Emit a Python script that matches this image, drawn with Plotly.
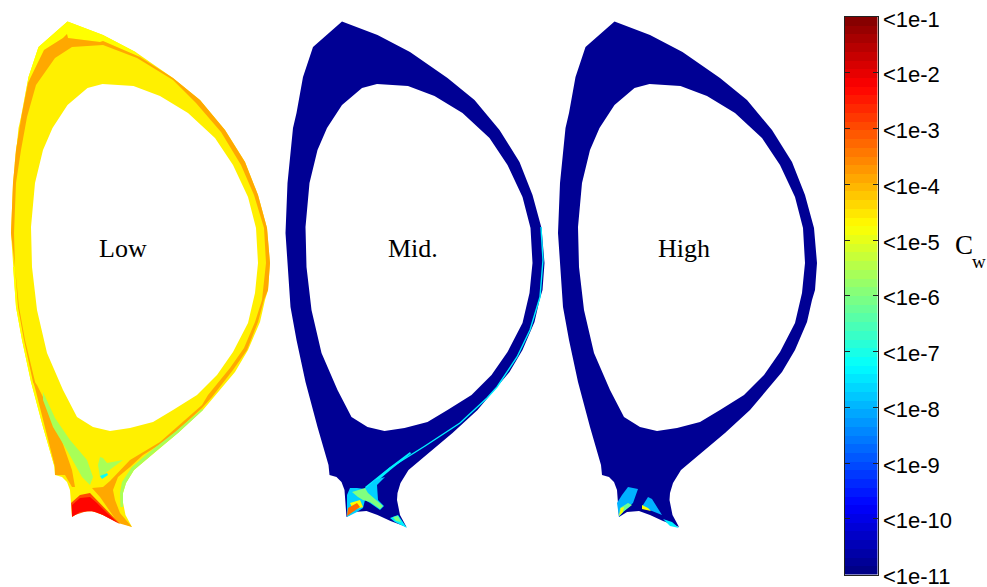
import numpy as np
import plotly.graph_objects as go

# ---- traced geometry (reference pixels) ----
OUTER_X = [67.5,103,135.5,173,200,225,245,258,267,270,268,265,260,248,235,213,203,178,155,134,126,123,122.5,125.5,132,116,103,92,80,72,70,67,62,55,54,43,31,22,16,13,11,13,16,18.5,22,28.5,38.5,67.5]
OUTER_Y = [21.5,35,52,78,100,130,162,195,228,263,290,300,322,350,372,398,410,433,452,470,483,493,500,515,527,521,515,511,512,517,490,482,477,475,465,427,382,340,307,267,233,183,150,128,113,77,47,21.5]
HOLE_X = [102.5,133.5,160,188,215,233,248,256,258,255,253,248,233,217,197,173,153,130,110,93,77,63,47,37,32,31,35,43,52.5,67.5,87.5,102.5]
HOLE_Y = [84,86,96,113,138,165,197,228,263,293,300,323,352,375,395,410,422,428,431,427,417,390,353,310,267,227,183,150,128,105,88,84]

TOP_EDGE_X = [67.5,103,135.5,140,103,100,68,67,63,44,28,22,16,14,21,28.5,38.5]
TOP_EDGE_Y = [21.5,35,52,57,41,42,38,34,38,50,83,113,150,170,117,77,47]
LOW_EDGE_X = [13,16,22,31,43,54,56,45,33,24,18,15]
LOW_EDGE_Y = [267,307,340,382,427,465,465,420,380,340,307,267]

BAND_X = [33,24,18,15,11,13,16,22,28,44,63,67,68,100,103,140,173,200,225,245,258,267,270,268,264,258,247,233,212,202,167,143,130,130,160,202,208,230,244,255,262,266,264,254,241,221,196,173,137,103,72,55,36,27,21,16,14,15,19,25,37]
BAND_Y = [382,340,307,267,233,183,150,113,83,50,38,34,38,42,41,57,78,100,130,162,195,228,263,290,300,322,350,370,397,408,440,455,467,460,442,405,395,368,348,322,300,263,228,195,165,132,103,80,58,45,47,58,85,117,150,183,233,267,307,340,390]
WEDGE_X = [33,43,55,55,65,72,75,72,57,43,37]
WEDGE_Y = [380,420,467,475,475,487,487,470,427,397,385]
TAIL_X = [92,103,110,130,130,118,113,115,120,132,118,100]
TAIL_Y = [488,487,481,460,467,477,490,500,513,527,523,497]
EDGE_X = [203,178,155,134,126,123,123,120.5,120,122,132,152,175,202]
EDGE_Y = [410,433,452,470,483,493,507,507,493,482,467,450,432,409]
ARC_X = [43,55,70,87,93,90,82,68,53,43]
ARC_Y = [392,418,440,460,477,485,477,452,427,400]
FORK_X = [100,103,107,123,100,98]
FORK_Y = [457,458,463,460,477,465]
SPOT_X = [100,107,108,102]
SPOT_Y = [476,473,475,479]
HALO_X = [71,80,90,97,107,120,118,97,87,72]
HALO_Y = [503,495,493,500,510,524,523,512,511,516]
RED_X = [72,80,90,97,107,118,103,92,80,72]
RED_Y = [505,498,497,503,513,523,515,511,512,517]

M_BASE_X = [347,350,357,365,375,385,377,378,384,380,370,365,363,357,347]
M_BASE_Y = [495,488,488,489,480,477,485,500,506,510,503,500,508,512,517]
M_GREEN_X = [352,365,368,378,383,380,370,363,358]
M_GREEN_Y = [492,488,493,502,506,509,502,500,497]
M_YELLOW_X = [350,360,363,353]
M_YELLOW_Y = [503,500,507,510]
M_ORANGE_X = [348,357,360,352,347]
M_ORANGE_Y = [508,503,507,513,516]
M_TIP_X = [390,398,407,395]
M_TIP_Y = [518,515,528,522]
M_TIPG_X = [393,398,401,396]
M_TIPG_Y = [517,516,522,521]
M_STREAK_X = [541,543,540,530,517,497,487,460,425,390,365]
M_STREAK_Y = [227,260,297,330,357,387,398,423,446,468,489]
M_WIDE_X = [365,390,410,411,391,367]
M_WIDE_Y = [487,467,452,453.5,469.5,490]

H_BLUE_X = [622,628,638,633,623,619,617]
H_BLUE_Y = [495,487,489,503,512,517,503]
H_GREEN_X = [619,620,628,632,623]
H_GREEN_Y = [516,508,503,505,512]
H_YELLOW_X = [619,621,624,623]
H_YELLOW_Y = [516,508,507,512]
H_RIGHT_X = [643,648,652,662,652,642]
H_RIGHT_Y = [505,497,499,515,511,508]
H_RYEL_X = [642,648,651,642]
H_RYEL_Y = [505,508,511,509]
H_TIP_X = [663,672,679,670]
H_TIP_Y = [519,522,528,526]

MID_SHIFT = 274.5
HIGH_SHIFT = 547

PANEL_LABELS = ["Low", "Mid.", "High"]
PANEL_LABEL_X = [123, 413, 684]
PANEL_LABEL_Y = [248, 248, 248]

CB_EXPONENTS = [-1, -2, -3, -4, -5, -6, -7, -8, -9, -10, -11]
CB_LABELS = ["<1e-1", "<1e-2", "<1e-3", "<1e-4", "<1e-5", "<1e-6", "<1e-7", "<1e-8", "<1e-9", "<1e-10", "<1e-11"]

# exponent of each region's concentration
V_EDGE = -4.75
V_MAIN = -4.6
V_BAND = -3.9
V_GREEN = -5.6
V_CYAN = -7.2
V_HALO = -3.0
V_RED = -2.3
V_BLUE = -10.8
V_MID_CYAN = -7.4
V_MID_BASE = -7.7
V_MID_GREEN = -6.0
V_MID_YELLOW = -4.8
V_MID_ORANGE = -3.3
V_HIGH_BASE = -8.0
V_HIGH_GREEN = -6.2


def jet(t):
    t = float(np.clip(t, 0, 1))
    r = np.clip(min(4 * t - 1.5, -4 * t + 4.5), 0, 1)
    g = np.clip(min(4 * t - 0.5, -4 * t + 3.5), 0, 1)
    b = np.clip(min(4 * t + 0.5, -4 * t + 2.5), 0, 1)
    return f"rgb({round(255*r)},{round(255*g)},{round(255*b)})"


def color(v):
    return jet((v + 11) / 10)


def patch(xs, ys, v, dx=0):
    return go.Scatter(x=[a + dx for a in xs] + [xs[0] + dx], y=list(ys) + [ys[0]], mode="lines",
                      fill="toself", fillcolor=color(v), line=dict(width=0),
                      hoverinfo="skip", showlegend=False)


def ring(v, dx=0):
    xs = [a + dx for a in OUTER_X] + [None] + [a + dx for a in HOLE_X[::-1]]
    ys = list(OUTER_Y) + [None] + list(HOLE_Y[::-1])
    return go.Scatter(x=xs, y=ys, mode="lines", fill="toself", fillcolor=color(v),
                      line=dict(width=0), hoverinfo="skip", showlegend=False)


fig = go.Figure()

# Low
fig.add_trace(ring(V_MAIN))
for xs, ys, v in [(TOP_EDGE_X, TOP_EDGE_Y, V_EDGE), (LOW_EDGE_X, LOW_EDGE_Y, V_EDGE),
                  (BAND_X, BAND_Y, V_BAND), (WEDGE_X, WEDGE_Y, V_BAND), (TAIL_X, TAIL_Y, V_BAND),
                  (EDGE_X, EDGE_Y, V_GREEN), (ARC_X, ARC_Y, V_GREEN), (FORK_X, FORK_Y, V_GREEN),
                  (SPOT_X, SPOT_Y, V_CYAN), (HALO_X, HALO_Y, V_HALO), (RED_X, RED_Y, V_RED)]:
    fig.add_trace(patch(xs, ys, v))

# Mid
fig.add_trace(ring(V_BLUE, MID_SHIFT))
fig.add_trace(go.Scatter(x=M_STREAK_X, y=M_STREAK_Y, mode="lines",
                         line=dict(color=color(V_MID_CYAN), width=1.4), hoverinfo="skip", showlegend=False))
for xs, ys, v in [(M_WIDE_X, M_WIDE_Y, V_MID_CYAN), (M_BASE_X, M_BASE_Y, V_MID_BASE), (M_GREEN_X, M_GREEN_Y, V_MID_GREEN),
                  (M_YELLOW_X, M_YELLOW_Y, V_MID_YELLOW), (M_ORANGE_X, M_ORANGE_Y, V_MID_ORANGE),
                  (M_TIP_X, M_TIP_Y, V_MID_CYAN), (M_TIPG_X, M_TIPG_Y, V_MID_GREEN)]:
    fig.add_trace(patch(xs, ys, v))

# High
fig.add_trace(ring(V_BLUE, HIGH_SHIFT))
for xs, ys, v in [(H_BLUE_X, H_BLUE_Y, V_HIGH_BASE), (H_GREEN_X, H_GREEN_Y, V_HIGH_GREEN),
                  (H_YELLOW_X, H_YELLOW_Y, V_MID_YELLOW), (H_RIGHT_X, H_RIGHT_Y, V_HIGH_BASE),
                  (H_RYEL_X, H_RYEL_Y, V_MID_YELLOW), (H_TIP_X, H_TIP_Y, V_MID_CYAN)]:
    fig.add_trace(patch(xs, ys, v))

# colour bar: 64 discrete jet levels
levels = 64
edges = np.linspace(-11, -1, levels + 1)
centers = (edges[:-1] + edges[1:]) / 2
scale = []
for i in range(levels):
    c = jet((i + 0.5) / levels)
    scale += [[i / levels, c], [(i + 1) / levels, c]]
fig.add_trace(go.Heatmap(x=[0], y=centers.tolist(), z=[[float(c)] for c in centers],
                         zmin=-11, zmax=-1, colorscale=scale, showscale=False,
                         hoverinfo="skip", xaxis="x2", yaxis="y2"))

W, H = 987, 587
fig.update_layout(
    width=W, height=H, margin=dict(l=0, r=0, t=0, b=0), autosize=False,
    paper_bgcolor="white", plot_bgcolor="rgba(0,0,0,0)", showlegend=False,
    xaxis=dict(range=[0, W], domain=[0, 1], visible=False, fixedrange=True, automargin=False),
    yaxis=dict(range=[H, 0], domain=[0, 1], visible=False, fixedrange=True, automargin=False),
    xaxis2=dict(domain=[845 / W, 877.5 / W], range=[-0.5, 0.5], showticklabels=False, ticks="",
                showgrid=False, zeroline=False, showline=True, linecolor="#222", linewidth=1,
                anchor="y2", mirror=True, fixedrange=True, automargin=False),
    yaxis2=dict(domain=[(H - 574.5) / H, (H - 17) / H], range=[-11, -1], side="right", anchor="x2",
                tickvals=CB_EXPONENTS, ticktext=CB_LABELS, ticks="inside", ticklen=5, tickwidth=1,
                tickcolor="#222", mirror="ticks", showline=True, linecolor="#222", linewidth=1,
                showgrid=False, zeroline=False, fixedrange=True, automargin=False,
                ticklabelshift=2, ticklabeloverflow="allow",
                tickfont=dict(family="Liberation Sans", size=22, color="black")),
)

for label, lx, ly in zip(PANEL_LABELS, PANEL_LABEL_X, PANEL_LABEL_Y):
    fig.add_annotation(x=lx, y=ly, xref="x", yref="y", text=label, showarrow=False,
                       font=dict(family="Liberation Serif", size=26, color="black"))
fig.add_annotation(x=963.5, y=245, xref="x", yref="y", text="C", showarrow=False,
                   font=dict(family="Liberation Serif", size=27, color="black"))
fig.add_annotation(x=979, y=261, xref="x", yref="y", text="w", showarrow=False,
                   font=dict(family="Liberation Serif", size=19, color="black"))

fig.write_html("out.html", config=dict(displayModeBar=False), post_script="document.body.style.margin='0';")
